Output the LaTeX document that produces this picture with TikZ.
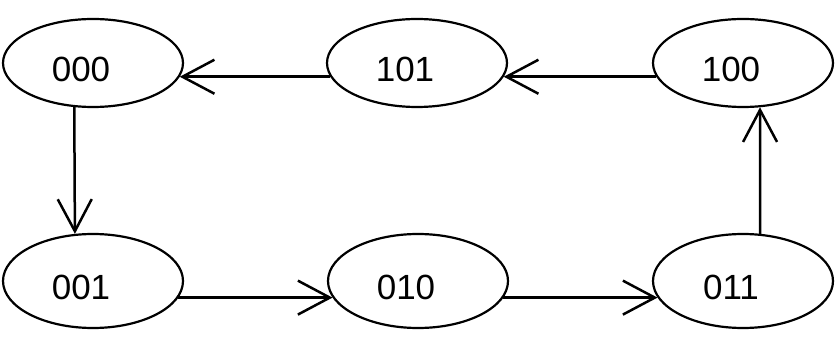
\documentclass[tikz,border=0pt]{standalone}
\usepackage{fontspec}
\setmainfont{Liberation Sans}
\usetikzlibrary{shapes.geometric,arrows.meta}

\begin{document}
\begin{tikzpicture}[x=1pt,y=1pt,
  state/.style={ellipse, draw, line width=2.2pt, minimum width=180pt, minimum height=88pt, inner sep=0pt},
  low/.style={minimum height=94pt},
  lbl/.style={inner sep=0pt, xshift=-12pt, yshift=-6pt, font=\fontsize{35}{40}\selectfont},
  arr/.style={line width=2.5pt, -{Straight Barb[length=32pt,width=34pt]}}]
\useasboundingbox (0,0) rectangle (837,337);
\node[state, label={[lbl]center:000}] (n000) at (93,274) {};
\node[state, label={[lbl]center:101}] (n101) at (417,274) {};
\node[state, label={[lbl]center:100}] (n100) at (743,274) {};
\node[state, low, label={[lbl]center:001}] (n001) at (93,56) {};
\node[state, low, label={[lbl]center:010}] (n010) at (418,56) {};
\node[state, low, label={[lbl]center:011}] (n011) at (743,56) {};
\draw[arr] (n100.189) -- (n101.-9);
\draw[arr] (n101.189) -- (n000.-9);
\draw[arr] (n000.-113) -- (n001.111);
\draw[arr] (n001.-11) -- (n010.191);
\draw[arr] (n010.-11) -- (n011.191);
\draw[arr] (n011.70) -- (n100.-69);
\end{tikzpicture}
\end{document}
